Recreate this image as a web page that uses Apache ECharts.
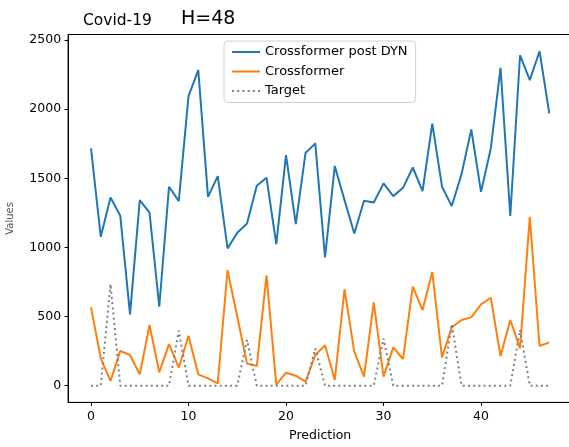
<!DOCTYPE html>
<html>
<head>
<meta charset="utf-8">
<script src="https://cdn.jsdelivr.net/npm/echarts@6/dist/echarts.min.js"></script>
<style>
html,body{margin:0;padding:0;background:#fff;}
#chart{width:569px;height:447px;}
</style>
</head>
<body>
<div id="chart"></div>
<script>
var titleMain = 'Covid-19';
var titleHorizon = 'H=48';
var xLabel = 'Prediction';
var yLabel = 'Values';
var seriesNames = ['Crossformer post DYN', 'Crossformer', 'Target'];
var xTicks = [0, 10, 20, 30, 40];
var yTicks = [0, 500, 1000, 1500, 2000, 2500];

var postDyn = [1716, 1077, 1361, 1229, 516, 1342, 1251, 571, 1439, 1335,
  2094, 2282, 1366, 1516, 993, 1106, 1173, 1446, 1504, 1024,
  1667, 1169, 1684, 1752, 928, 1588, 1342, 1101, 1337, 1325,
  1463, 1371, 1431, 1578, 1407, 1896, 1439, 1299, 1530, 1853,
  1402, 1716, 2299, 1227, 2390, 2210, 2419, 1969];
var crossformer = [566, 198, 34, 251, 222, 82, 439, 96, 301, 130,
  361, 82, 53, 17, 836, 499, 161, 142, 798, 8,
  94, 72, 29, 222, 292, 41, 696, 246, 65, 602,
  65, 277, 193, 716, 547, 822, 205, 422, 475, 494,
  588, 636, 214, 475, 270, 1222, 287, 313];
var target = [0, 0, 735, 0, 0, 0, 0, 0, 0, 398,
  0, 0, 0, 0, 0, 0, 330, 0, 0, 0,
  0, 0, 0, 268, 0, 0, 0, 0, 0, 0,
  342, 0, 0, 0, 0, 0, 0, 446, 0, 0,
  0, 0, 0, 0, 402, 0, 0, 0];

function pairs(arr){ return arr.map(function(v,i){ return [i, v]; }); }
function plain(v){ return String(v); }

var FONT = 'DejaVu Sans';
var chart = echarts.init(document.getElementById('chart'), null, {renderer:'canvas'});
chart.setOption({
  backgroundColor: '#ffffff',
  animation: false,
  textStyle: {fontFamily: FONT},
  grid: {left: 68.1, top: 34.5, width: 504.1, height: 367.9, show: true,
         outerBoundsMode: 'none', containLabel: false,
         borderColor: '#000', borderWidth: 1, backgroundColor: 'transparent'},
  graphic: [
    {type: 'text', left: 83, top: 13, style: {text: titleMain, font: '15.5px "DejaVu Sans"', fill: '#000'}},
    {type: 'text', left: 181, top: 10, style: {text: titleHorizon, font: '19px "DejaVu Sans"', fill: '#000'}}
  ],
  legend: {
    show: true, orient: 'vertical', left: 224, top: 41,
    data: seriesNames,
    itemWidth: 28, itemHeight: 14, itemGap: 6.5,
    padding: [4.5, 8, 5, 7],
    borderColor: '#d0d0d0', borderWidth: 1, borderRadius: 4,
    backgroundColor: 'rgba(255,255,255,0.8)',
    itemStyle: {opacity: 0, borderWidth: 0},
    textStyle: {fontFamily: FONT, fontSize: 13, color: '#000'}
  },
  xAxis: {
    type: 'value', min: -2.35, max: 49.35,
    name: xLabel, nameLocation: 'middle', nameGap: 27,
    nameTextStyle: {fontFamily: FONT, fontSize: 12.5, color: '#000'},
    splitLine: {show: false},
    axisLine: {show: true, onZero: false, lineStyle: {color: '#000', width: 1}},
    axisTick: {show: true, length: 3.5, lineStyle: {color: '#000'}, customValues: xTicks},
    axisLabel: {fontFamily: FONT, fontSize: 12.5, color: '#000', margin: 8, customValues: xTicks, formatter: plain}
  },
  yAxis: {
    type: 'value', min: -121, max: 2540,
    name: yLabel, nameLocation: 'middle', nameGap: 53,
    nameTextStyle: {fontFamily: FONT, fontSize: 10, color: '#555'},
    splitLine: {show: false},
    axisLine: {show: true, onZero: false, lineStyle: {color: '#000', width: 1}},
    axisTick: {show: true, length: 3.5, lineStyle: {color: '#000'}, customValues: yTicks},
    axisLabel: {fontFamily: FONT, fontSize: 12.5, color: '#000', margin: 7, customValues: yTicks, formatter: plain}
  },
  series: [
    {name: seriesNames[0], type: 'line', data: pairs(postDyn), symbol: 'none',
     color: '#1f77b4', lineStyle: {color: '#1f77b4', width: 2}, z: 2},
    {name: seriesNames[1], type: 'line', data: pairs(crossformer), symbol: 'none',
     color: '#ff7f0e', lineStyle: {color: '#ff7f0e', width: 2}, z: 3},
    {name: seriesNames[2], type: 'line', data: pairs(target), symbol: 'none',
     color: '#808080', lineStyle: {color: '#808080', width: 2, type: [2, 3.2]}, z: 4}
  ]
});
</script>
</body>
</html>
